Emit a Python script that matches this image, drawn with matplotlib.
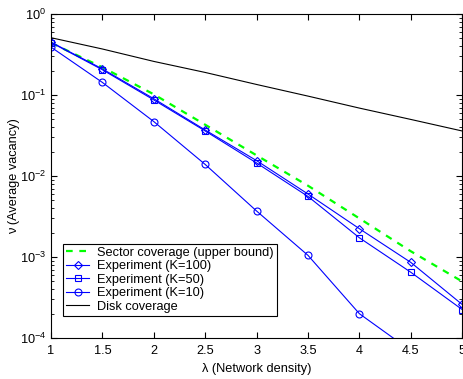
import matplotlib
matplotlib.use("Agg")
import matplotlib.pyplot as plt
import numpy as np

plt.rcParams["font.family"] = ["Liberation Sans", "DejaVu Sans"]
plt.rcParams["mathtext.fontset"] = "custom"
plt.rcParams["mathtext.rm"] = "Liberation Sans"
plt.rcParams["mathtext.it"] = "Liberation Sans:italic"
plt.rcParams["font.size"] = 9.2

density = [1, 1.5, 2, 2.5, 3, 3.5, 4, 4.5, 5]
sector = [0.44, 0.22, 0.102, 0.043, 0.018, 0.0076, 0.0030, 0.00118, 0.0005]
exp_k100 = [0.45, 0.21, 0.090, 0.037, 0.0155, 0.0060, 0.00224, 0.00086, 0.00026]
exp_k50 = [0.445, 0.205, 0.087, 0.036, 0.0145, 0.0056, 0.00173, 0.00065, 0.000225]
exp_k10 = [0.39, 0.143, 0.047, 0.0139, 0.0037, 0.00105, 0.0002, 0.00007, 0.000025]
disk = [0.51, 0.37, 0.26, 0.19, 0.135, 0.097, 0.069, 0.050, 0.036]

fig = plt.figure(figsize=(4.64, 3.79), dpi=100)
ax = fig.add_axes([0.110, 0.108, 0.886, 0.855])

blue = (0, 0, 1)
ax.plot(density, sector, "--", color=(0, 1, 0), lw=1.6, dashes=(3, 3),
        label="Sector coverage (upper bound)")
ax.plot(density, exp_k100, "-", marker="D", color=blue, mfc="none", ms=4, mew=0.8, lw=0.8,
        label="Experiment (K=100)")
ax.plot(density, exp_k50, "-", marker="s", color=blue, mfc="none", ms=4.2, mew=0.8, lw=0.8,
        label="Experiment (K=50)")
ax.plot(density, exp_k10, "-", marker="o", color=blue, mfc="none", ms=5, mew=0.8, lw=0.8,
        label="Experiment (K=10)")
ax.plot(density, disk, "-", color="black", lw=0.8, label="Disk coverage")

ax.set_yscale("log")
ax.set_xlim(1, 5)
ax.set_ylim(1e-4, 1)
ax.set_xticks(density)
ax.set_xticklabels(["1", "1.5", "2", "2.5", "3", "3.5", "4", "4.5", "5"])
ax.tick_params(which="both", direction="in", top=True, right=True)
ax.tick_params(which="major", length=4)
ax.tick_params(which="minor", length=2)
ax.tick_params(axis="x", pad=5)
for s in ax.spines.values():
    s.set_linewidth(0.8)

ax.set_xlabel("λ (Network density)")
ax.set_ylabel("ν (Average vacancy)", labelpad=0)

leg = ax.legend(loc="lower left", bbox_to_anchor=(0.029, 0.068), fancybox=False,
                edgecolor="black", framealpha=1, fontsize=9.2, borderpad=0.25,
                labelspacing=0.12, handlelength=1.8, handletextpad=0.6,
                borderaxespad=0)
leg.get_frame().set_linewidth(0.8)

fig.savefig("out.png", dpi=100)
